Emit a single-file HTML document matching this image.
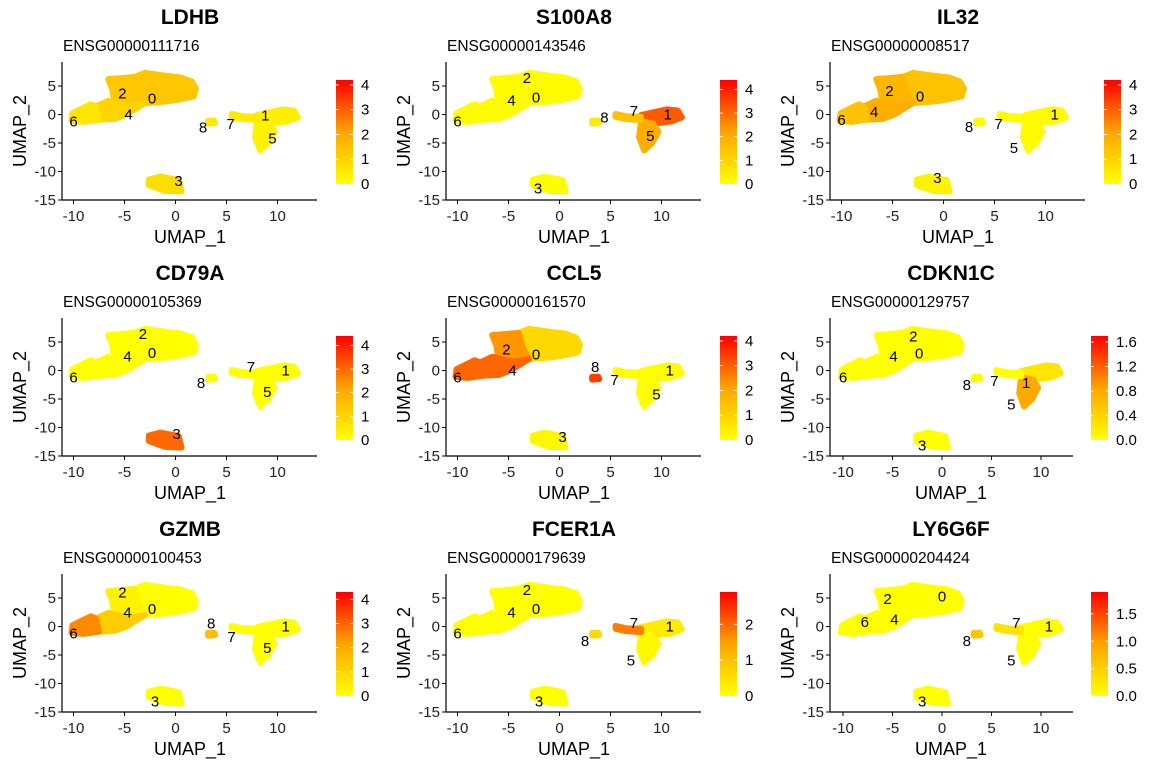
<!DOCTYPE html>
<html><head><meta charset="utf-8"><style>
body{margin:0;background:#fff}
svg text{font-family:"Liberation Sans",sans-serif}
</style></head><body>
<svg id="c" width="1152" height="768" viewBox="0 0 1152 768"></svg>
<script>
const genes=["LDHB","S100A8","IL32","CD79A","CCL5","CDKN1C","GZMB","FCER1A","LY6G6F"];
const ensIds=["ENSG00000111716","ENSG00000143546","ENSG00000008517","ENSG00000105369","ENSG00000161570","ENSG00000129757","ENSG00000100453","ENSG00000179639","ENSG00000204424"];
const legendMax=[4.2,4.4,4.2,4.4,4.2,1.7,4.3,2.9,1.9];
const legendTicks=[[0,1,2,3,4],[0,1,2,3,4],[0,1,2,3,4],[0,1,2,3,4],[0,1,2,3,4],[0,0.4,0.8,1.2,1.6],[0,1,2,3,4],[0,1,2],[0,0.5,1,1.5]];
const legendDecimals=[0,0,0,0,0,1,0,0,1];
// mean expression per cluster 0..8 for each gene
const expr=[
 [1.3,0.4,1.3,0.8,1.0,0.3,0.6,0.5,0.5],
 [0.1,3.2,0.1,0.1,0.1,2.0,0.1,1.5,0.5],
 [1.4,0.1,1.7,0.3,1.9,0.1,1.4,0.1,0.1],
 [0,0,0,3.0,0,0,0,0,0],
 [0.9,0.05,2.3,0.2,2.9,0.05,2.9,0.1,3.4],
 [0,0.25,0,0,0,0.8,0,0,0],
 [0,0,0.3,0,1.2,0,2.5,0,1.6],
 [0,0.3,0,0,0,0.1,0,1.8,0.6],
 [0,0,0,0,0,0,0,0.3,0.6]
];
// cluster outlines in UMAP coordinates
const clusterShapes=[
 [[-4,6.6],[-3,7.3],[-1,6.8],[0.5,6.5],[1.6,5.8],[2,4.5],[1.8,3.2],[0,2.5],[-1.5,2.2],[-3,2],[-3.6,4]],
 [[8,-0.1],[9.5,0.5],[10.5,0.9],[11.6,0.7],[12,-0.5],[11,-1.2],[9.2,-1.6],[8,-1.2]],
 [[-6.6,6.2],[-4,6.6],[-3.6,4],[-3,2],[-4.5,1.5],[-6,2.2],[-6.2,4.5]],
 [[-2.6,-11.4],[-1.5,-10.9],[0.3,-11.5],[0.6,-13.5],[-1,-13.4],[-2.6,-12.4]],
 [[-6.6,2.4],[-4.5,1.5],[-3,2],[-4.8,0],[-6,-0.8],[-7.5,-0.9],[-7.8,1.4]],
 [[8,-1.2],[9.2,-1.6],[9.7,-3],[9.1,-5],[8.3,-6.3],[7.8,-4]],
 [[-10.2,-1.1],[-10.1,0.2],[-9,1.2],[-8.3,1.8],[-7.8,1.4],[-7.5,-0.9],[-9,-1.3]],
 [[5.5,0.1],[6.5,-0.3],[8,-0.4],[8,-1],[6.5,-0.8],[5.5,-0.4]],
 [[3.2,-1.1],[3.8,-1.1],[3.9,-1.5],[3.2,-1.6]]
];
const labelPos=[
 [[-2.3,2.8],[8.8,-0.2],[-5.2,3.7],[0.3,-11.7],[-4.6,0],[9.5,-4.2],[-10,-1.2],[5.4,-1.7],[2.7,-2.3]],
 [[-2.3,3],[10.6,0],[-3.2,6.4],[-2.1,-13],[-4.7,2.5],[8.9,-3.8],[-10,-1.2],[7.3,0.6],[4.4,-0.5]],
 [[-2.3,3.2],[10.9,0],[-5.3,4.1],[-0.6,-11.1],[-6.8,0.4],[6.9,-5.9],[-10,-1],[5.4,-1.7],[2.5,-2.2]],
 [[-2.3,3.1],[10.8,0],[-3.2,6.4],[0.1,-11.1],[-4.7,2.5],[9,-3.8],[-10,-1.2],[7.4,0.6],[2.5,-2.2]],
 [[-2.3,2.8],[10.8,0],[-5.2,3.7],[0.3,-11.7],[-4.6,0],[9.5,-4.2],[-10,-1.2],[5.4,-1.7],[3.5,0.6]],
 [[-2.3,3],[8.5,-2.2],[-2.9,6],[-2,-13.2],[-4.9,2.5],[7,-6],[-10,-1.2],[5.3,-1.8],[2.5,-2.5]],
 [[-2.3,3.1],[10.8,0],[-5.2,6],[-2,-13.2],[-4.7,2.5],[9,-3.8],[-10,-1.2],[5.5,-1.8],[3.5,0.5]],
 [[-2.3,3.1],[10.8,0],[-3.2,6.4],[-2,-13.2],[-4.7,2.5],[7,-6],[-10,-1.2],[7.3,0.6],[2.5,-2.5]],
 [[0,5.3],[10.8,0],[-5.5,4.8],[-2,-13.2],[-4.8,1.2],[7,-6],[-7.8,0.8],[7.5,0.6],[2.5,-2.5]]
];
const xTicks=[-10,-5,0,5,10];
const yTicks=[5,0,-5,-10,-15];

const NS="http://www.w3.org/2000/svg";
const svg=document.getElementById('c');
function mk(tag,attrs,parent){const e=document.createElementNS(NS,tag);for(const k in attrs)e.setAttribute(k,attrs[k]);(parent||svg).appendChild(e);return e;}
function col(t){t=Math.max(0,Math.min(1,t));let g;if(t<0.5){g=255-(255-165)*(t/0.5);}else{g=165*(1-(t-0.5)/0.5);}return `rgb(255,${Math.round(g)},0)`;}

genes.forEach((gene,p)=>{
 const ox=(p%3)*384, oy=Math.floor(p/3)*256;
 const dec=legendDecimals[p]===1;
 const x0=dec?174:175.5, xs=dec?9.9:10.2, axR=dec?305:317;
 const y0=114.5, ys=5.7;
 const X=v=>ox+x0+v*xs, Y=v=>oy+y0-v*ys;
 const g=mk('g',{},svg);
 
 
 const t=mk('text',{x:ox+(dec?183:190),y:oy+24,'text-anchor':'middle','font-size':21,'font-weight':'bold',fill:'#000'},g);t.textContent=gene;
 
 const st=mk('text',{x:ox+63,y:oy+51,'font-size':15.5,fill:'#000'},g);st.textContent=ensIds[p];
 
 clusterShapes.forEach((sh,ci)=>{
  const c=col(expr[p][ci]/legendMax[p]);
  const poly=mk('polygon',{points:sh.map(q=>X(q[0])+','+Y(q[1])).join(' '),fill:c,stroke:c,'stroke-width':6,'stroke-linejoin':'round'},g);
  
  
 });
 labelPos[p].forEach((lp,ci)=>{
  const l=mk('text',{x:X(lp[0]),y:Y(lp[1])+5,'text-anchor':'middle','font-size':15,fill:'#000'},g);l.textContent=ci;
  
 });
 const xa=mk('line',{x1:ox+62,y1:oy+200,x2:ox+axR,y2:oy+200,stroke:'#000','stroke-width':1.2},g);
 
 const ya=mk('line',{x1:ox+62,y1:oy+62,x2:ox+62,y2:oy+200,stroke:'#000','stroke-width':1.2},g);
 
 xTicks.forEach(v=>{
  mk('line',{x1:X(v),y1:oy+200,x2:X(v),y2:oy+204,stroke:'#000'},g);
  const tl=mk('text',{x:X(v),y:oy+221,'text-anchor':'middle','font-size':15,fill:'#222'},g);tl.textContent=v;
  
 });
 yTicks.forEach(v=>{
  mk('line',{x1:ox+58,y1:Y(v),x2:ox+62,y2:Y(v),stroke:'#000'},g);
  const tl=mk('text',{x:ox+56,y:Y(v)+5,'text-anchor':'end','font-size':15,fill:'#222'},g);tl.textContent=v;
  
 });
 const xt=mk('text',{x:ox+(dec?183:190),y:oy+243,'text-anchor':'middle','font-size':18,fill:'#000'},g);xt.textContent='UMAP_1';
 
 const yt=mk('text',{x:0,y:0,'text-anchor':'middle','font-size':18,fill:'#000',transform:`translate(${ox+26},${oy+131}) rotate(-90)`},g);yt.textContent='UMAP_2';
 
 const bx=ox+(dec?323:336), bt=oy+80, bb=oy+184, bw=17;
 const gid='grad'+p;
 const defs=mk('defs',{},g);
 const lg=mk('linearGradient',{id:gid,x1:0,y1:1,x2:0,y2:0},defs);
 [0,0.25,0.5,0.75,1].forEach(s=>mk('stop',{offset:s,'stop-color':col(s)},lg));
 const bar=mk('rect',{x:bx,y:bt,width:bw,height:bb-bt,fill:`url(#${gid})`},g);
 
 legendTicks[p].forEach(v=>{
  const yy=bb-v/legendMax[p]*(bb-bt);
  mk('line',{x1:bx,y1:yy,x2:bx+3,y2:yy,stroke:'#fff','stroke-width':0.8},g);
  mk('line',{x1:bx+bw-3,y1:yy,x2:bx+bw,y2:yy,stroke:'#fff','stroke-width':0.8},g);
  const tl=mk('text',{x:bx+bw+8,y:yy+5,'font-size':15,fill:'#000'},g);tl.textContent=dec?v.toFixed(1):v;
  
 });
});
</script>
</body></html>
